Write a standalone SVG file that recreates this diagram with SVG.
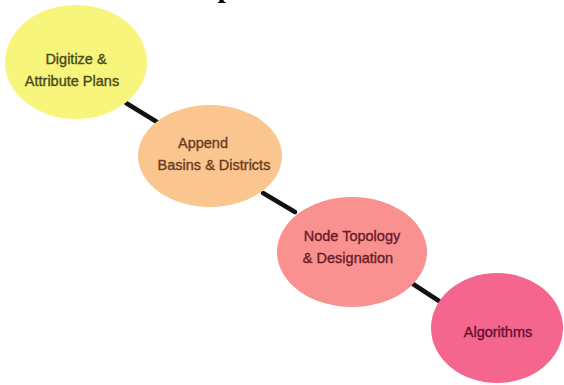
<svg xmlns="http://www.w3.org/2000/svg" width="564" height="385" viewBox="0 0 564 385">
<style>
.lbl{font-family:"Liberation Sans",Arial,sans-serif;font-size:14.5px;text-anchor:middle;stroke-width:0.35;}
.edge{stroke:#111;stroke-width:4.5;stroke-linecap:round;fill:none;}
</style>
<rect width="564" height="385" fill="#ffffff"/>
<text x="217.5" y="-3.5" font-family="Liberation Serif,serif" font-weight="bold" font-size="30" fill="#000">p</text>
<g id="connectors">
<line class="edge" x1="126" y1="103" x2="157" y2="122"/>
<line class="edge" x1="263" y1="193" x2="295" y2="212"/>
<line class="edge" x1="413" y1="284" x2="439" y2="301"/>
</g>
<g id="node1">
<ellipse cx="76" cy="62" rx="71" ry="57" fill="#f7f57c"/>
<text class="lbl" x="76" y="64" fill="#4a4a18" stroke="#4a4a18">Digitize &amp;</text>
<text class="lbl" x="72" y="86" fill="#4a4a18" stroke="#4a4a18">Attribute Plans</text>
</g>
<g id="node2">
<ellipse cx="210" cy="156" rx="72" ry="51" fill="#fac58f"/>
<text class="lbl" x="203" y="148" fill="#6a3c1c" stroke="#6a3c1c">Append</text>
<text class="lbl" x="214" y="170" fill="#6a3c1c" stroke="#6a3c1c">Basins &amp; Districts</text>
</g>
<g id="node3">
<ellipse cx="352" cy="252" rx="75" ry="55" fill="#f99191"/>
<text class="lbl" x="352" y="241" fill="#6a1c26" stroke="#6a1c26">Node Topology</text>
<text class="lbl" x="348" y="263" fill="#6a1c26" stroke="#6a1c26">&amp; Designation</text>
</g>
<g id="node4">
<ellipse cx="497" cy="328" rx="66" ry="55" fill="#f4668e"/>
<text class="lbl" x="498" y="337" fill="#6a0e2c" stroke="#6a0e2c">Algorithms</text>
</g>
</svg>
